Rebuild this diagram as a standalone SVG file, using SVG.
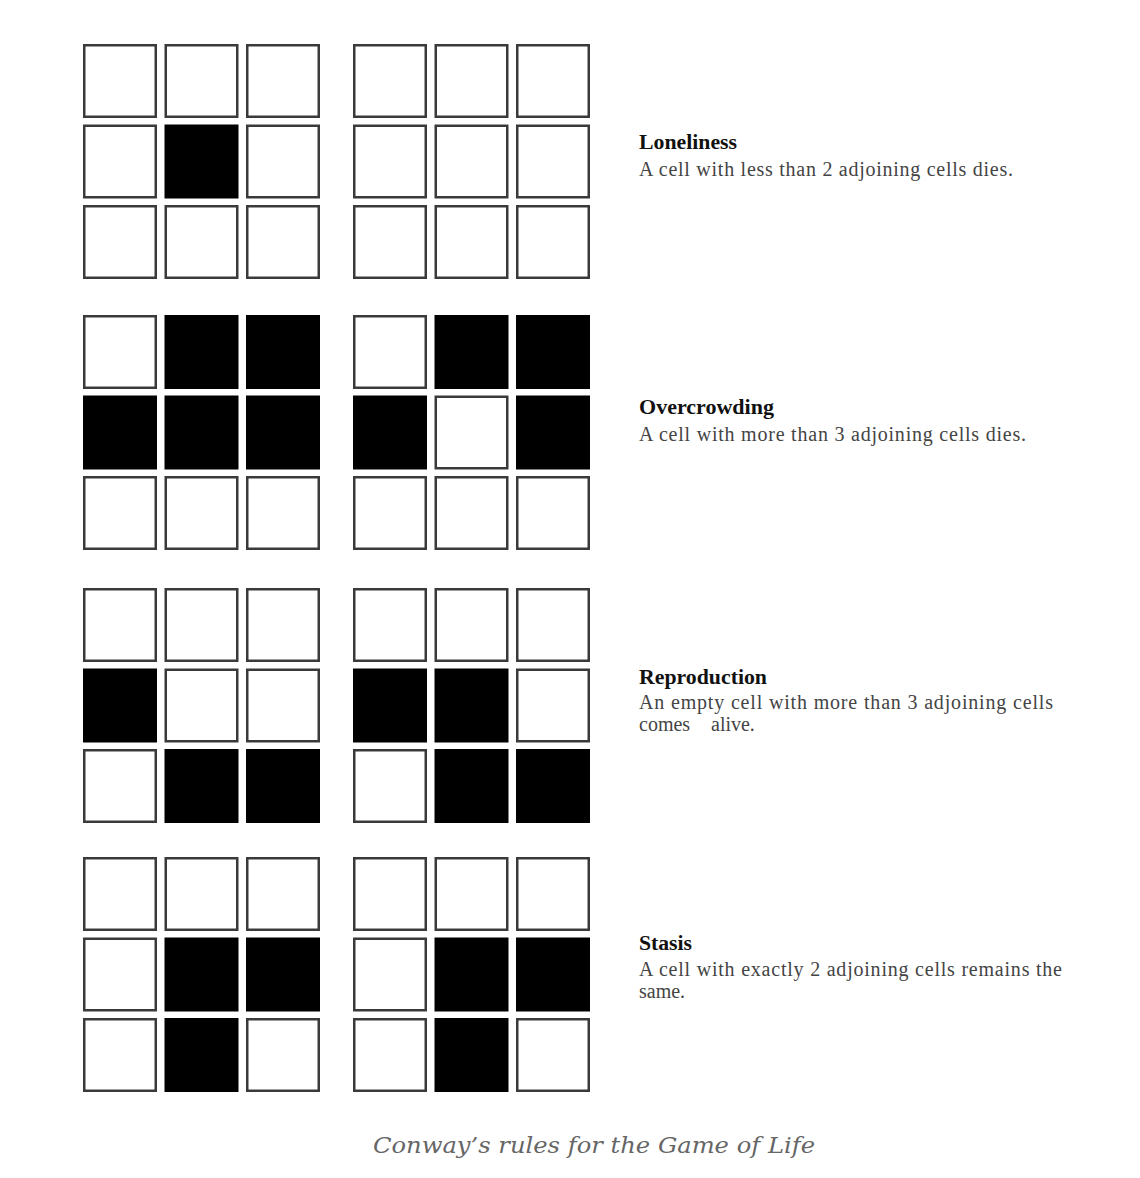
<svg xmlns="http://www.w3.org/2000/svg" xmlns:xlink="http://www.w3.org/1999/xlink" width="1140" height="1178" viewBox="0 0 1140 1178">
<style>
.w{fill:#fff;stroke:#3a3a3a;stroke-width:2.5}
.b{fill:#000;stroke:#000;stroke-width:2.5}
.t{font-family:"Liberation Serif","Times New Roman",serif;font-weight:bold;font-size:20px;fill:#111}
.d{font-family:"Liberation Serif","Times New Roman",serif;font-size:20px;fill:#444}
.cap{font-family:"DejaVu Serif","Liberation Serif",serif;font-style:italic;font-size:23px;fill:#666}
</style>
<rect width="1140" height="1178" fill="#fff"/>
<g id="loneliness-before" transform="translate(83,44)">
<rect class="w" x="1.25" y="1.25" width="71.5" height="71.5"/><rect class="w" x="82.75" y="1.25" width="71.5" height="71.5"/><rect class="w" x="164.25" y="1.25" width="71.5" height="71.5"/>
<rect class="w" x="1.25" y="81.75" width="71.5" height="71.5"/><rect class="b" x="82.75" y="81.75" width="71.5" height="71.5"/><rect class="w" x="164.25" y="81.75" width="71.5" height="71.5"/>
<rect class="w" x="1.25" y="162.25" width="71.5" height="71.5"/><rect class="w" x="82.75" y="162.25" width="71.5" height="71.5"/><rect class="w" x="164.25" y="162.25" width="71.5" height="71.5"/>
</g>
<g id="loneliness-after" transform="translate(353,44)">
<rect class="w" x="1.25" y="1.25" width="71.5" height="71.5"/><rect class="w" x="82.75" y="1.25" width="71.5" height="71.5"/><rect class="w" x="164.25" y="1.25" width="71.5" height="71.5"/>
<rect class="w" x="1.25" y="81.75" width="71.5" height="71.5"/><rect class="w" x="82.75" y="81.75" width="71.5" height="71.5"/><rect class="w" x="164.25" y="81.75" width="71.5" height="71.5"/>
<rect class="w" x="1.25" y="162.25" width="71.5" height="71.5"/><rect class="w" x="82.75" y="162.25" width="71.5" height="71.5"/><rect class="w" x="164.25" y="162.25" width="71.5" height="71.5"/>
</g>
<g id="overcrowding-before" transform="translate(83,315)">
<rect class="w" x="1.25" y="1.25" width="71.5" height="71.5"/><rect class="b" x="82.75" y="1.25" width="71.5" height="71.5"/><rect class="b" x="164.25" y="1.25" width="71.5" height="71.5"/>
<rect class="b" x="1.25" y="81.75" width="71.5" height="71.5"/><rect class="b" x="82.75" y="81.75" width="71.5" height="71.5"/><rect class="b" x="164.25" y="81.75" width="71.5" height="71.5"/>
<rect class="w" x="1.25" y="162.25" width="71.5" height="71.5"/><rect class="w" x="82.75" y="162.25" width="71.5" height="71.5"/><rect class="w" x="164.25" y="162.25" width="71.5" height="71.5"/>
</g>
<g id="overcrowding-after" transform="translate(353,315)">
<rect class="w" x="1.25" y="1.25" width="71.5" height="71.5"/><rect class="b" x="82.75" y="1.25" width="71.5" height="71.5"/><rect class="b" x="164.25" y="1.25" width="71.5" height="71.5"/>
<rect class="b" x="1.25" y="81.75" width="71.5" height="71.5"/><rect class="w" x="82.75" y="81.75" width="71.5" height="71.5"/><rect class="b" x="164.25" y="81.75" width="71.5" height="71.5"/>
<rect class="w" x="1.25" y="162.25" width="71.5" height="71.5"/><rect class="w" x="82.75" y="162.25" width="71.5" height="71.5"/><rect class="w" x="164.25" y="162.25" width="71.5" height="71.5"/>
</g>
<g id="reproduction-before" transform="translate(83,588)">
<rect class="w" x="1.25" y="1.25" width="71.5" height="71.5"/><rect class="w" x="82.75" y="1.25" width="71.5" height="71.5"/><rect class="w" x="164.25" y="1.25" width="71.5" height="71.5"/>
<rect class="b" x="1.25" y="81.75" width="71.5" height="71.5"/><rect class="w" x="82.75" y="81.75" width="71.5" height="71.5"/><rect class="w" x="164.25" y="81.75" width="71.5" height="71.5"/>
<rect class="w" x="1.25" y="162.25" width="71.5" height="71.5"/><rect class="b" x="82.75" y="162.25" width="71.5" height="71.5"/><rect class="b" x="164.25" y="162.25" width="71.5" height="71.5"/>
</g>
<g id="reproduction-after" transform="translate(353,588)">
<rect class="w" x="1.25" y="1.25" width="71.5" height="71.5"/><rect class="w" x="82.75" y="1.25" width="71.5" height="71.5"/><rect class="w" x="164.25" y="1.25" width="71.5" height="71.5"/>
<rect class="b" x="1.25" y="81.75" width="71.5" height="71.5"/><rect class="b" x="82.75" y="81.75" width="71.5" height="71.5"/><rect class="w" x="164.25" y="81.75" width="71.5" height="71.5"/>
<rect class="w" x="1.25" y="162.25" width="71.5" height="71.5"/><rect class="b" x="82.75" y="162.25" width="71.5" height="71.5"/><rect class="b" x="164.25" y="162.25" width="71.5" height="71.5"/>
</g>
<g id="stasis-before" transform="translate(83,857)">
<rect class="w" x="1.25" y="1.25" width="71.5" height="71.5"/><rect class="w" x="82.75" y="1.25" width="71.5" height="71.5"/><rect class="w" x="164.25" y="1.25" width="71.5" height="71.5"/>
<rect class="w" x="1.25" y="81.75" width="71.5" height="71.5"/><rect class="b" x="82.75" y="81.75" width="71.5" height="71.5"/><rect class="b" x="164.25" y="81.75" width="71.5" height="71.5"/>
<rect class="w" x="1.25" y="162.25" width="71.5" height="71.5"/><rect class="b" x="82.75" y="162.25" width="71.5" height="71.5"/><rect class="w" x="164.25" y="162.25" width="71.5" height="71.5"/>
</g>
<g id="stasis-after" transform="translate(353,857)">
<rect class="w" x="1.25" y="1.25" width="71.5" height="71.5"/><rect class="w" x="82.75" y="1.25" width="71.5" height="71.5"/><rect class="w" x="164.25" y="1.25" width="71.5" height="71.5"/>
<rect class="w" x="1.25" y="81.75" width="71.5" height="71.5"/><rect class="b" x="82.75" y="81.75" width="71.5" height="71.5"/><rect class="b" x="164.25" y="81.75" width="71.5" height="71.5"/>
<rect class="w" x="1.25" y="162.25" width="71.5" height="71.5"/><rect class="b" x="82.75" y="162.25" width="71.5" height="71.5"/><rect class="w" x="164.25" y="162.25" width="71.5" height="71.5"/>
</g>
<g id="connectors"></g>
<g id="label-loneliness">
<text class="t" x="639" y="149" textLength="98" lengthAdjust="spacingAndGlyphs">Loneliness</text>
<text class="d" x="639" y="176" textLength="374" lengthAdjust="spacing">A cell with less than 2 adjoining cells dies.</text>
</g>
<g id="label-overcrowding">
<text class="t" x="639" y="414" textLength="135" lengthAdjust="spacingAndGlyphs">Overcrowding</text>
<text class="d" x="639" y="441" textLength="387" lengthAdjust="spacing">A cell with more than 3 adjoining cells dies.</text>
</g>
<g id="label-reproduction">
<text class="t" x="639" y="684" textLength="128" lengthAdjust="spacingAndGlyphs">Reproduction</text>
<text class="d" x="639" y="709" textLength="414" lengthAdjust="spacing">An empty cell with more than 3 adjoining cells</text>
<text class="d" x="639" y="731">comes <tspan x="711">alive.</tspan></text>
</g>
<g id="label-stasis">
<text class="t" x="639" y="950" textLength="53" lengthAdjust="spacingAndGlyphs">Stasis</text>
<text class="d" x="639" y="976" textLength="423" lengthAdjust="spacing">A cell with exactly 2 adjoining cells remains the</text>
<text class="d" x="639" y="998">same.</text>
</g>
<text id="caption" class="cap" x="373" y="1153" textLength="442" lengthAdjust="spacingAndGlyphs">Conway’s rules for the Game of Life</text>
</svg>
